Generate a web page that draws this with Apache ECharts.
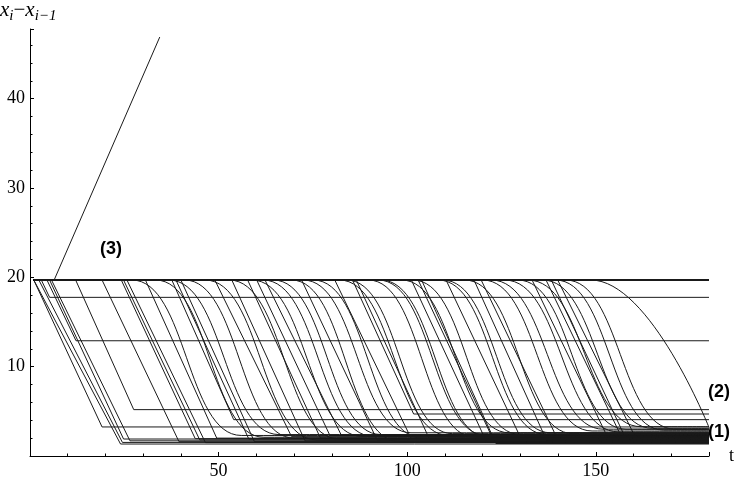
<!DOCTYPE html>
<html>
<head>
<meta charset="utf-8">
<script src="https://cdn.jsdelivr.net/npm/echarts/dist/echarts.min.js"></script>
<style>
  html, body { margin: 0; padding: 0; background: #fff; }
  #main { width: 737px; height: 482px; }
</style>
</head>
<body>
<div id="main"></div>
<script>
// headway x_i - x_{i-1} against time t
const tFirst = 1;
const tLast = 180;
const topLevel = 19.7;

// straight descents: start time, time the floor is reached, floor value
const linStart = [1, 1.3, 2.35, 3.0, 4.5, 5.2, 5.7, 12.1, 19.1, 24.2, 24.8, 25.7, 30.6, 37.6, 38.7, 40, 49, 53.5, 57.7, 60.1, 62.3, 72, 80.8, 85.5, 86.5, 101.1, 102.9, 103.8, 110.3, 117.7, 119.6, 133.1, 136.8, 138.2, 139.9];
const linEnd   = [19.1, 24.0, 24.5, 5.2, 12.2, 24.8, 26.5, 27.5, 39.5, 43.8, 45.0, 46.5, 49.5, 54.0, 58, 59.5, 69.3, 72.9, 77, 79.5, 82.5, 92, 101, 101.7, 106, 121, 122.5, 123.5, 130, 137, 139.5, 153, 156.5, 158, 160];
const linFloor = [3.25, 1.34, 1.52, 17.76, 12.9, 1.9, 1.7, 5.19, 1.6, 1.94, 1.8, 1.5, 2.0, 4.07, 1.9, 1.6, 2.2, 1.7, 2.0, 2.3, 2.35, 1.8, 2.0, 4.7, 1.8, 1.6, 2.1, 1.4, 2.1, 1.7, 2.2, 2.2, 2.4, 1.9, 2.5];

// smooth S-shaped descents: start time, time the floor is reached, floor value
const crvStart = [27, 33.3, 36.8, 41, 46.4, 52.8, 58.8, 61.8, 64.5, 69.3, 72.4, 75.1, 82, 83.9, 89.7, 92.3, 93, 98.5, 101.5, 108.2, 109.4, 115.2, 120, 122.3, 125.8, 129.3, 132, 135.9, 139.3, 142, 148.7];
const crvEnd   = [56, 62, 66, 70, 76, 82, 88, 91, 93, 98, 101, 104, 111, 112, 118, 121, 122, 127, 130, 137, 138, 144, 149, 152, 156, 158, 162, 165, 168, 171, 180];
const crvFloor = [2.3, 2.1, 2.4, 2.0, 1.8, 1.9, 2.2, 2.2, 2.4, 1.6, 2.6, 2.0, 2.3, 2.5, 2.1, 2.3, 2.0, 2.6, 2.4, 2.4, 2.6, 2.5, 2.8, 3.0, 2.7, 3.0, 3.28, 3.1, 2.9, 3.0, 3.2];

// the growing gap, marked (3)
const leadT = [1, 6.4, 34.4];
const leadY = [19.7, 19.7, 46.9];

const xTicks = [50, 100, 150];
const yTicks = [10, 20, 30, 40];

const chart = echarts.init(document.getElementById('main'));
const ink = '#1a1a1a';
const series = [];

function addLine(data, smooth, width) {
  series.push({
    type: 'line',
    data: data,
    smooth: smooth,
    smoothMonotone: 'x',
    symbol: 'none',
    silent: true,
    lineStyle: { color: ink, width: width || 1 },
  });
}

// vehicles that keep the initial gap
addLine([[tFirst, topLevel], [tLast, topLevel]], false, 2);

linStart.forEach((s, i) => {
  addLine([[tFirst, topLevel], [s, topLevel], [linEnd[i], linFloor[i]], [tLast, linFloor[i]]], false);
});
crvStart.forEach((s, i) => {
  const pts = [[tFirst, topLevel], [s, topLevel], [crvEnd[i], crvFloor[i]]];
  if (crvEnd[i] < tLast) pts.push([tLast, crvFloor[i]]);
  addLine(pts, 0.5);
});
addLine(leadT.map((t, i) => [t, leadY[i]]), false);

const labelFont = { fontFamily: 'Liberation Serif', fontSize: 18, color: '#000' };

const option = {
  animation: false,
  backgroundColor: '#fff',
  grid: { left: 30, right: 28, top: 29, bottom: 26, containLabel: false },
  xAxis: {
    type: 'value',
    min: 0,
    max: 180,
    interval: 50,
    name: 't',
    nameLocation: 'end',
    nameGap: 20,
    nameTextStyle: { fontFamily: 'Liberation Serif', fontSize: 18, color: '#000', verticalAlign: 'middle' },
    axisLine: { lineStyle: { color: '#000', width: 1 } },
    axisTick: { inside: true, length: 4, lineStyle: { color: '#000' } },
    minorTick: { show: true, splitNumber: 5, length: 2.5, lineStyle: { color: '#000' } },
    axisLabel: Object.assign({
      margin: 6,
      formatter: (v) => (xTicks.indexOf(v) >= 0 ? String(v) : ''),
    }, labelFont),
    splitLine: { show: false },
  },
  yAxis: {
    type: 'value',
    min: 0,
    max: 47.8,
    interval: 10,
    axisLine: { lineStyle: { color: '#000', width: 1 } },
    axisTick: { inside: true, length: 4, lineStyle: { color: '#000' } },
    minorTick: { show: true, splitNumber: 5, length: 2.5, lineStyle: { color: '#000' } },
    axisLabel: Object.assign({
      margin: 5,
      formatter: (v) => (yTicks.indexOf(v) >= 0 ? String(v) : ''),
    }, labelFont),
    splitLine: { show: false },
  },
  graphic: [
    {
      type: 'text',
      left: 0,
      top: 0,
      style: {
        text: '{a|x}{s|i}{m|−}{a|x}{s|i−1}',
        rich: {
          a: { fontFamily: 'Liberation Serif', fontStyle: 'italic', fontSize: 21, fill: '#000' },
          m: { fontFamily: 'Liberation Serif', fontSize: 21, fill: '#000' },
          s: { fontFamily: 'Liberation Serif', fontStyle: 'italic', fontSize: 15, fill: '#000', padding: [11, 0, 0, 0] },
        },
      },
    },
    { type: 'text', x: 100, y: 240, style: { text: '(3)', font: 'bold 18px "Liberation Sans"', fill: '#000' } },
    { type: 'text', x: 708, y: 383, style: { text: '(2)', font: 'bold 18px "Liberation Sans"', fill: '#000' } },
    { type: 'text', x: 708, y: 423, style: { text: '(1)', font: 'bold 18px "Liberation Sans"', fill: '#000' } },
  ],
  series: series,
};

chart.setOption(option);
</script>
</body>
</html>
